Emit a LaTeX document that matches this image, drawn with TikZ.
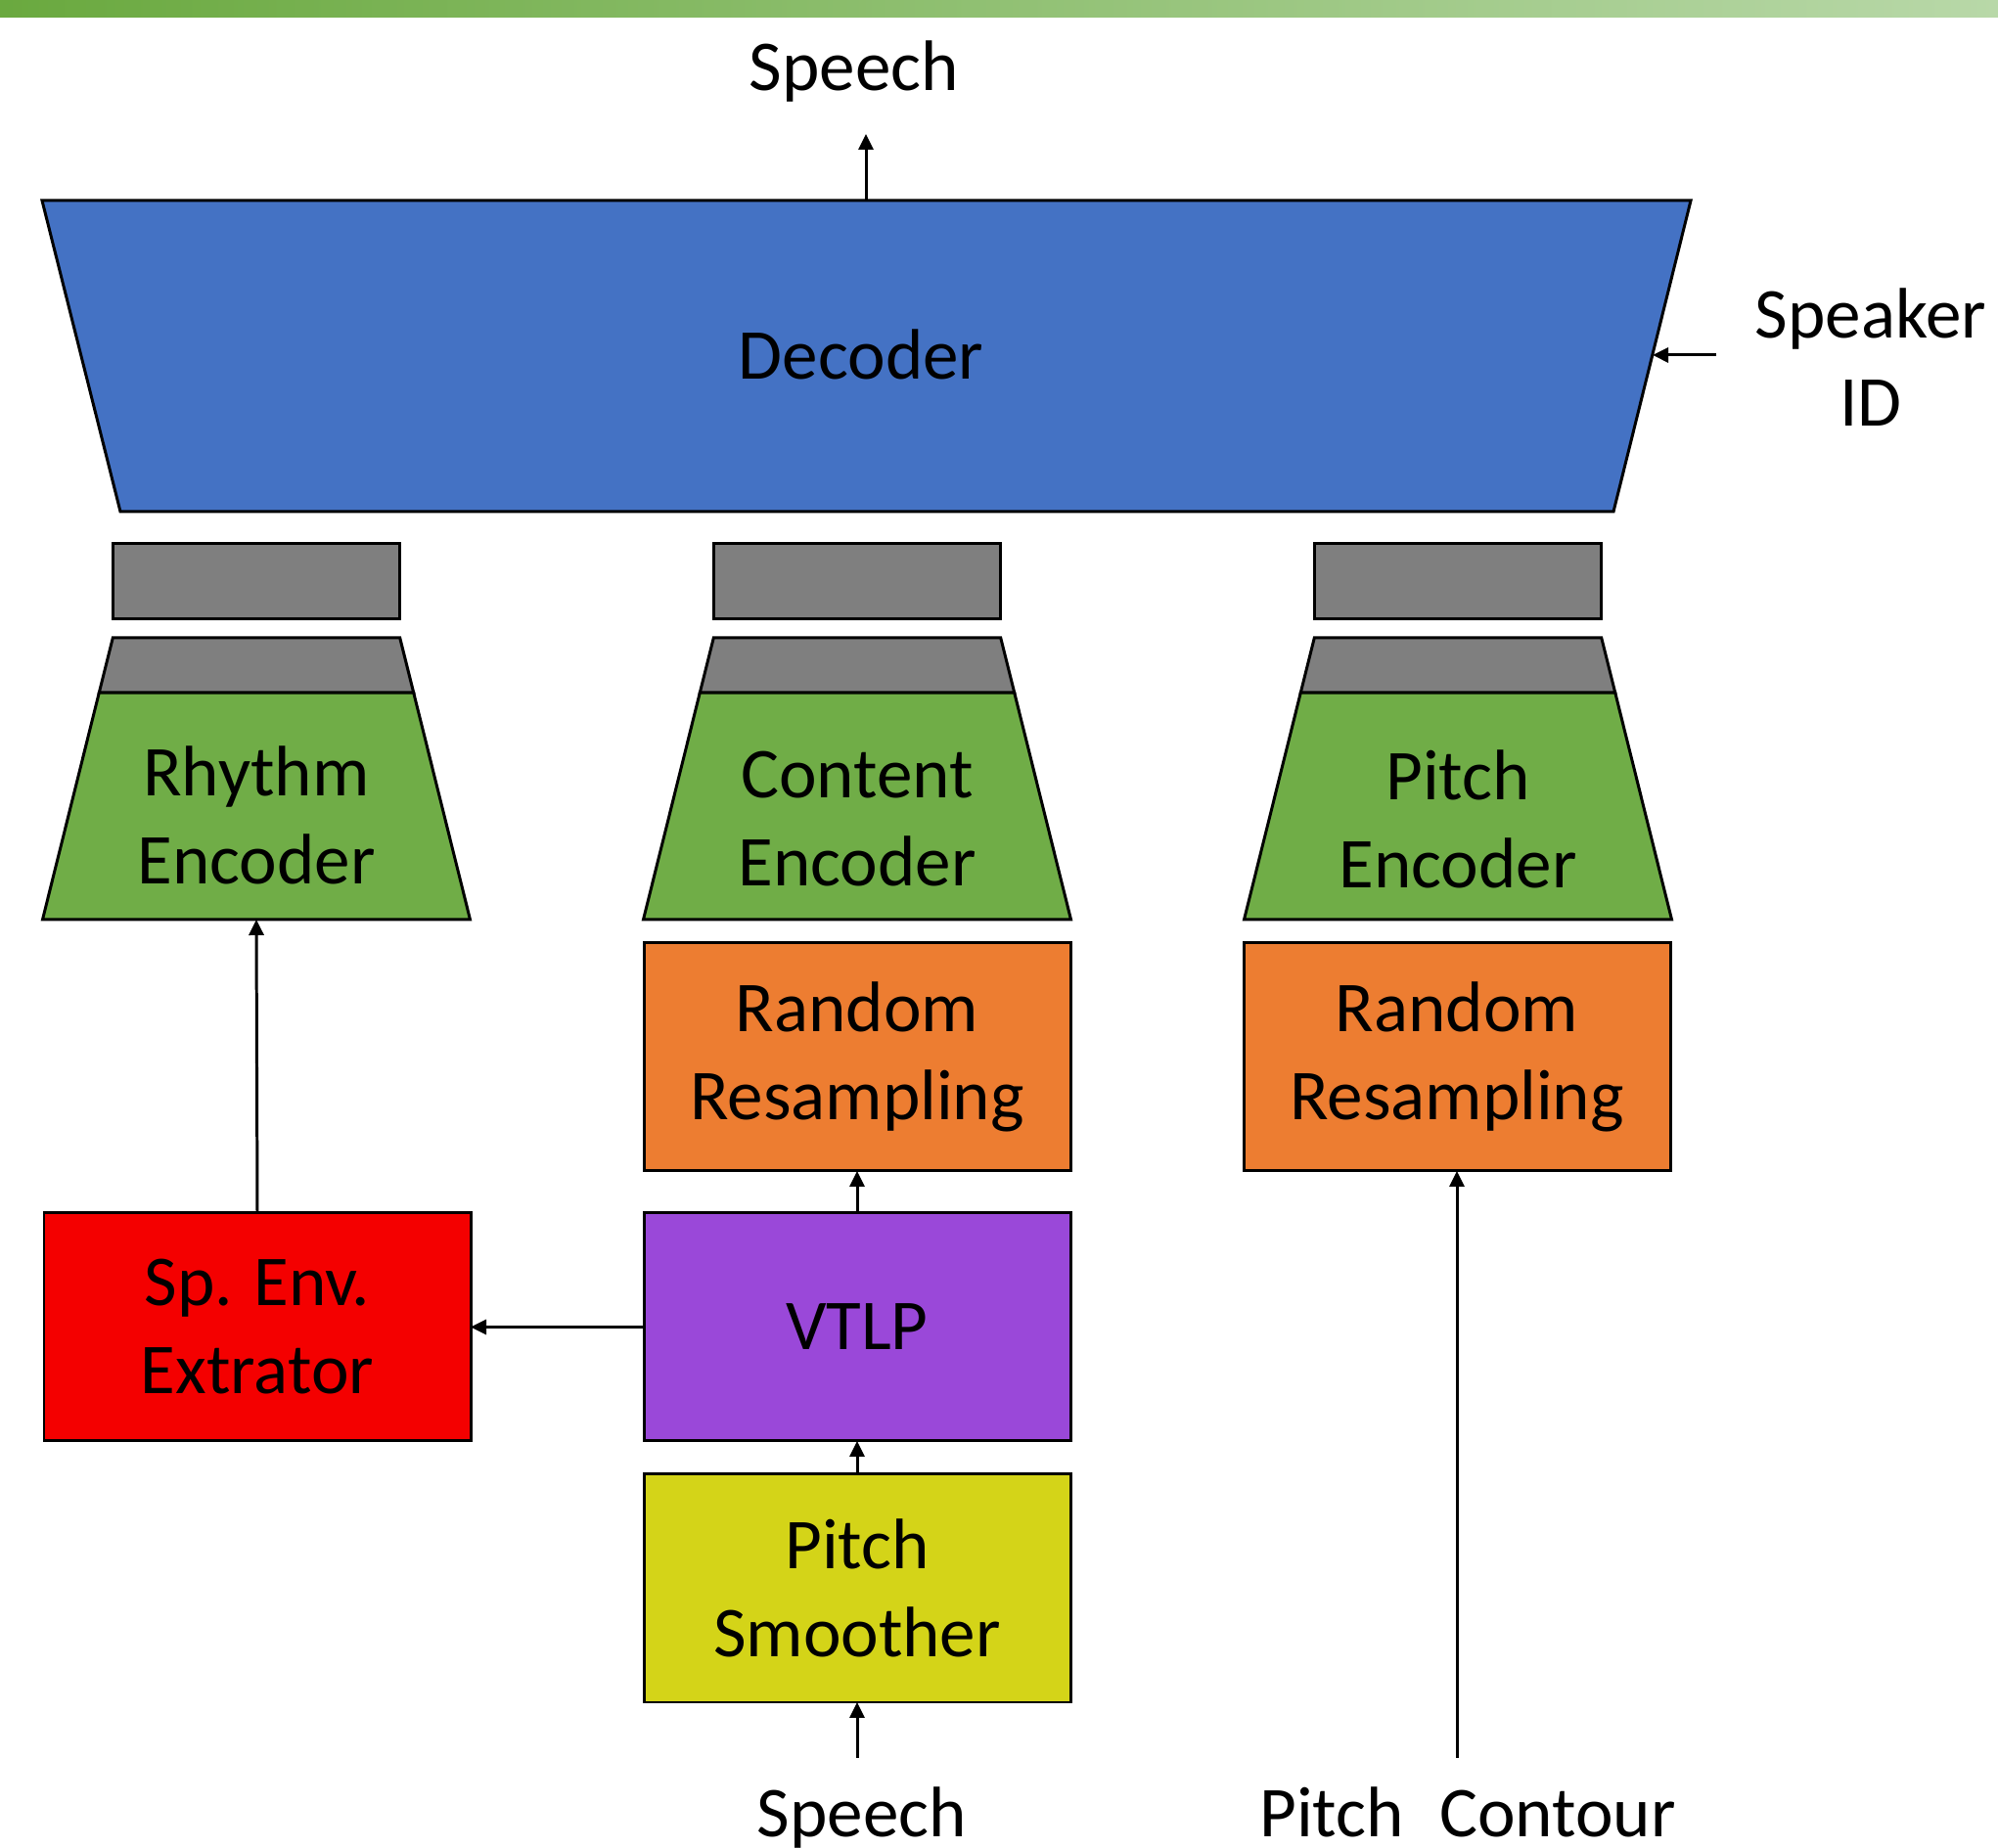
\documentclass[tikz,border=0pt]{standalone}
\usepackage{fontspec}
\setmainfont{Carlito}
\usetikzlibrary{arrows.meta,positioning}

\definecolor{decblue}{HTML}{4472C4}
\definecolor{encgreen}{HTML}{70AD47}
\definecolor{topgrey}{HTML}{7F7F7F}
\definecolor{rsorange}{HTML}{ED7D31}
\definecolor{vtlppurple}{HTML}{9A48D9}
\definecolor{envred}{HTML}{F40000}
\definecolor{smoothyellow}{HTML}{D4D418}
\definecolor{barleft}{HTML}{6AA93F}
\definecolor{barright}{HTML}{B8D8A8}

\tikzset{
    bigfont/.style={font=\fontsize{20.8}{25.6}\selectfont},
    blk/.style={draw, line width=0.85pt, minimum width=4.36cm, minimum height=2.33cm,
        align=center, outer sep=0pt, bigfont},
    encshape/.style={draw, line width=0.85pt, fill=encgreen, line join=miter},
    greyshape/.style={draw, line width=0.85pt, fill=topgrey},
    lbl/.style={align=center, bigfont},
    arr/.style={-{Triangle[length=0.16cm,width=0.15cm]}, line width=0.85pt},
}

\begin{document}
\begin{tikzpicture}
    \useasboundingbox (0,0) rectangle (20.42,18.89);
    \shade[left color=barleft, right color=barright] (0,18.71) rectangle (20.42,18.89);

    % decoder
    \filldraw[draw, line width=0.85pt, fill=decblue] (0.43,16.84) -- (17.28,16.84)
        -- (16.49,13.66) -- (1.23,13.66) -- cycle;
    \node[lbl] (dec) at (8.80,15.27) {Decoder};
    \coordinate (decOut) at (8.85,16.84);
    \coordinate (decIn) at (16.89,15.26);
    \node[lbl, anchor=base] (spTop) at (8.73,17.96) {Speech};
    \coordinate (spOut) at (8.85,17.52);
    \node[lbl] (spk) at (19.12,15.24) {Speaker\\ID};
    \coordinate (spkIn) at (17.54,15.26);

    % encoders
    \filldraw[encshape] (2.62,9.49) ++(-2.185,0) -- ++(4.37,0) -- ++(-0.578,2.32) -- ++(-3.214,0) -- cycle;
    \filldraw[greyshape] (2.62,11.81) ++(-1.607,0) -- ++(3.214,0) -- ++(-0.14,0.56) -- ++(-2.934,0) -- cycle;
    \filldraw[greyshape] (1.155,12.56) rectangle (4.085,13.33);
    \node[lbl] (encL) at (2.62,10.56) {Rhythm\\Encoder};
    \coordinate (encLIn) at (2.62,9.49);

    \filldraw[encshape] (8.76,9.49) ++(-2.185,0) -- ++(4.37,0) -- ++(-0.578,2.32) -- ++(-3.214,0) -- cycle;
    \filldraw[greyshape] (8.76,11.81) ++(-1.607,0) -- ++(3.214,0) -- ++(-0.14,0.56) -- ++(-2.934,0) -- cycle;
    \filldraw[greyshape] (7.295,12.56) rectangle (10.225,13.33);
    \node[lbl] (encC) at (8.76,10.52) {Content\\Encoder};

    \filldraw[encshape] (14.90,9.49) ++(-2.185,0) -- ++(4.37,0) -- ++(-0.578,2.32) -- ++(-3.214,0) -- cycle;
    \filldraw[greyshape] (14.90,11.81) ++(-1.607,0) -- ++(3.214,0) -- ++(-0.14,0.56) -- ++(-2.934,0) -- cycle;
    \filldraw[greyshape] (13.435,12.56) rectangle (16.365,13.33);
    \node[lbl] (encR) at (14.90,10.52) {Pitch\\Encoder};

    % blocks
    \node[blk, fill=vtlppurple] (vtlp) at (8.76,5.325) {VTLP};
    \node[blk, fill=smoothyellow, below=0.34cm of vtlp] (ps) {Pitch\\Smoother};
    \node[blk, fill=rsorange, above=0.43cm of vtlp] (rsC) {Random\\Resampling};
    \node[blk, fill=envred, left=1.77cm of vtlp] (env) {Sp. Env.\\Extrator};
    \node[blk, fill=rsorange, right=1.77cm of rsC] (rsR) {Random\\Resampling};

    % inputs
    \node[lbl, anchor=base] (spBot) at (8.81,0.12) {Speech};
    \coordinate (spIn) at (8.76,0.92);
    \node[lbl, anchor=base] (pc) at (15.00,0.12) {Pitch\hspace{0.5em}Contour};
    \coordinate (pcIn) at (14.89,0.92);

    % connections
    \draw[arr] (decOut) -- (spOut);
    \draw[arr] (spkIn) -- (decIn);
    \draw[arr] (spIn) -- (ps.south);
    \draw[arr] (ps) -- (vtlp);
    \draw[arr] (vtlp) -- (rsC);
    \draw[arr] (vtlp) -- (env);
    \draw[arr] (env.north) -- (encLIn);
    \draw[arr] (pcIn) -- (pcIn |- rsR.south);
\end{tikzpicture}
\end{document}
